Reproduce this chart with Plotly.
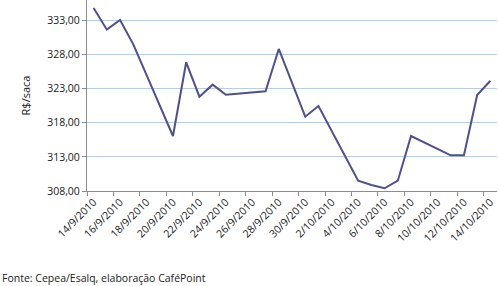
import plotly.graph_objects as go

dates = ["2010-09-14", "2010-09-15", "2010-09-16", "2010-09-17", "2010-09-20",
         "2010-09-21", "2010-09-22", "2010-09-23", "2010-09-24", "2010-09-27",
         "2010-09-28", "2010-09-29", "2010-09-30", "2010-10-01", "2010-10-04",
         "2010-10-05", "2010-10-06", "2010-10-07", "2010-10-08", "2010-10-11",
         "2010-10-12", "2010-10-13", "2010-10-14"]
prices = [334.83, 331.65, 333.07, 329.5, 316.06,
          326.87, 321.83, 323.59, 322.12, 322.62,
          328.82, 323.8, 318.89, 320.46, 309.51,
          308.88, 308.4, 309.51, 316.06, 313.23,
          313.23, 322.08, 324.17]

x_tick_vals = ["2010-09-14", "2010-09-16", "2010-09-18", "2010-09-20", "2010-09-22",
               "2010-09-24", "2010-09-26", "2010-09-28", "2010-09-30", "2010-10-02",
               "2010-10-04", "2010-10-06", "2010-10-08", "2010-10-10", "2010-10-12",
               "2010-10-14"]
x_tick_text = ["14/9/2010", "16/9/2010", "18/9/2010", "20/9/2010", "22/9/2010",
               "24/9/2010", "26/9/2010", "28/9/2010", "30/9/2010", "2/10/2010",
               "4/10/2010", "6/10/2010", "8/10/2010", "10/10/2010", "12/10/2010",
               "14/10/2010"]
y_tick_vals = [308, 313, 318, 323, 328, 333]
y_tick_text = ["308,00", "313,00", "318,00", "323,00", "328,00", "333,00"]

font_family = "Open Sans, Noto Sans, DejaVu Sans, sans-serif"

fig = go.Figure()
fig.add_trace(go.Scatter(
    x=dates, y=prices, mode="lines",
    line=dict(color="#50508C", width=2),
    hoverinfo="skip", showlegend=False,
))

fig.update_layout(
    width=499, height=286,
    margin=dict(l=87, r=2, t=0, b=95),
    paper_bgcolor="white", plot_bgcolor="white",
    font=dict(family=font_family, size=10.5, color="#222222"),
    xaxis=dict(
        type="date",
        range=["2010-09-13 12:00", "2010-10-14 12:00"],
        tickmode="array", tickvals=x_tick_vals, ticktext=x_tick_text,
        tickangle=-45, ticks="", showgrid=False, zeroline=False,
        showline=True, linecolor="#8C8C8C", linewidth=1,
        tickfont=dict(size=10.5),
        minor=dict(ticks="outside", ticklen=4, tickcolor="#8C8C8C",
                   tick0="2010-09-13 12:00", dtick=2 * 86400000, showgrid=False),
    ),
    yaxis=dict(
        range=[308, 336.0],
        tickmode="array", tickvals=y_tick_vals, ticktext=y_tick_text,
        ticks="outside", ticklen=4, tickcolor="#8C8C8C",
        showgrid=True, gridcolor="#A8D2F8", gridwidth=1,
        zeroline=False, showline=True, linecolor="#8C8C8C", linewidth=1,
        tickfont=dict(size=10.5),
        title=dict(text="R$/saca", font=dict(size=11), standoff=14),
    ),
    annotations=[dict(
        text="Fonte: Cepea/Esalq, elaboração CaféPoint",
        xref="paper", yref="paper", x=-87 / 410, y=-0.455,
        xanchor="left", yanchor="middle", showarrow=False,
        font=dict(size=10.5, color="#222222"),
    )],
)

fig.write_html("out.html")
